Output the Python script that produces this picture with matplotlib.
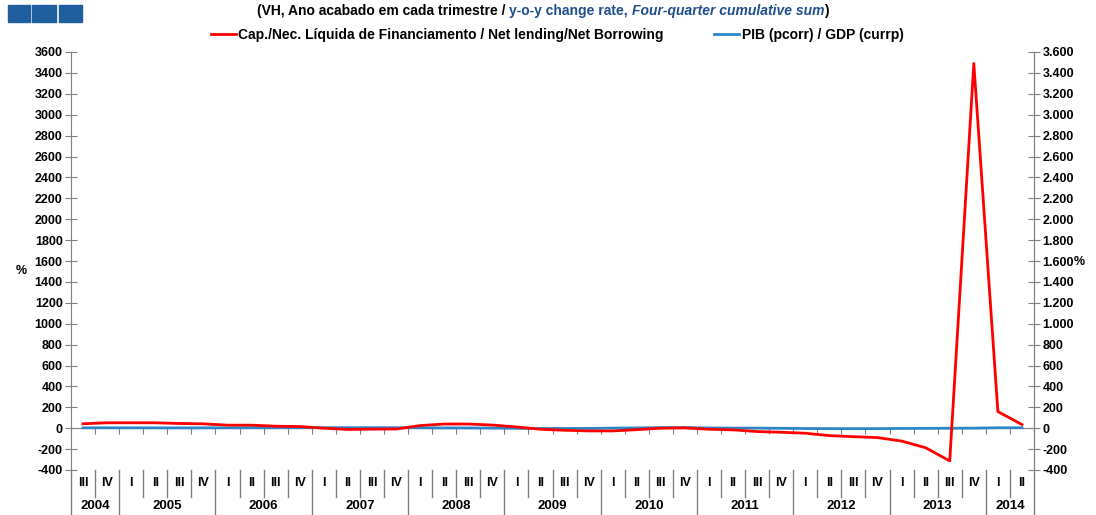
import matplotlib
matplotlib.use("Agg")
import matplotlib.pyplot as plt
from matplotlib.lines import Line2D
from matplotlib.patches import Rectangle
from matplotlib import transforms
from matplotlib.ticker import FuncFormatter, MultipleLocator

plt.rcParams['font.family'] = ['Liberation Sans', 'DejaVu Sans']
plt.rcParams['font.weight'] = 'bold'
plt.rcParams['axes.unicode_minus'] = False

# quarters from 2004 III to 2014 II
quarters = ['III', 'IV'] + ['I', 'II', 'III', 'IV'] * 9 + ['I', 'II']
years = ['2004', '2005', '2006', '2007', '2008', '2009', '2010', '2011', '2012', '2013', '2014']
year_len = [2, 4, 4, 4, 4, 4, 4, 4, 4, 4, 2]

# Cap./Nec. Liquida de Financiamento (VH %)
net_lending = [42, 52, 52, 52, 45, 42, 29, 29, 19, 16,
               0, -12, -9, -8, 25, 40, 40, 30, 12, -10,
               -20, -26, -26, -14, 0, 3, -10, -16, -32, -39,
               -48, -71, -81, -90, -123, -187, -313, 3490, 159, 35]
# PIB (pcorr) (VH %)
gdp = [3.5, 3.8, 3.5, 3.2, 3.0, 3.1, 3.5, 4.0, 4.2, 4.3,
       5.0, 5.2, 5.0, 4.8, 3.5, 2.5, 2.0, 1.0, -1.0, -2.5,
       -2.5, -2.0, 1.0, 2.5, 6.0, 6.0, 2.0, 1.0, 0.5, -1.0,
       -3.0, -4.0, -4.5, -4.0, -2.5, -1.5, -0.5, 0.5, 4.0, 4.0]

W, H = 1096, 515
fig = plt.figure(figsize=(W / 100, H / 100), dpi=100)
ax_left, ax_right, ax_top, ax_bot = 71, 1034, 52, 470
ax = fig.add_axes([ax_left / W, 1 - ax_bot / H, (ax_right - ax_left) / W, (ax_bot - ax_top) / H])

x = [i + 0.5 for i in range(len(quarters))]
grey = '#808080'
ax.plot(x, gdp, color='#2E86C8', lw=2, zorder=3)
ax.plot(x, net_lending, color='#FF0000', lw=2, zorder=4)

ax.set_xlim(0, len(quarters))
ax.set_ylim(-400, 3600)
ax.yaxis.set_major_locator(MultipleLocator(200))
ax.set_facecolor('none')

ax.spines['top'].set_visible(False)
ax.spines['bottom'].set_position(('data', 0))
ax.spines['bottom'].set_color(grey)
ax.spines['left'].set_color(grey)
ax.spines['right'].set_color(grey)
ax.set_xticks(range(len(quarters) + 1))
ax.tick_params(axis='x', direction='out', length=4, color=grey, labelbottom=False)
ax.tick_params(axis='y', direction='inout', length=8, color=grey, labelsize=9, pad=2)

ax2 = ax.twinx()
ax2.set_ylim(ax.get_ylim())
ax2.yaxis.set_major_locator(MultipleLocator(200))
ax2.yaxis.set_major_formatter(FuncFormatter(lambda v, p: f"{int(v):,}".replace(',', '.')))
ax2.tick_params(axis='y', direction='inout', length=8, color=grey, labelsize=9, pad=2)
for s in ['top', 'bottom', 'left']:
    ax2.spines[s].set_visible(False)
ax2.spines['right'].set_color(grey)

# category axis below the plot
tr = transforms.blended_transform_factory(ax.transData, ax.transAxes)
q_y = -(483 - ax_bot) / (ax_bot - ax_top)
y_y = -(506 - ax_bot) / (ax_bot - ax_top)
q_sep = -(497 - ax_bot) / (ax_bot - ax_top)
y_sep = -(515 - ax_bot) / (ax_bot - ax_top)
for i, q in enumerate(quarters):
    ax.text(i + 0.5, q_y, q, transform=tr, ha='center', va='center', fontsize=9, fontweight='bold')
year_bounds = [0]
for n in year_len:
    year_bounds.append(year_bounds[-1] + n)
for k in range(1, len(quarters)):
    bottom = y_sep if k in year_bounds else q_sep
    ax.add_line(Line2D([k, k], [0, bottom], transform=tr, color=grey, lw=1, clip_on=False))
for k in [0, len(quarters)]:
    ax.add_line(Line2D([k, k], [0, y_sep], transform=tr, color=grey, lw=1, clip_on=False))
for j, yr in enumerate(years):
    mid = (year_bounds[j] + year_bounds[j + 1]) / 2
    ax.text(mid, y_y, yr, transform=tr, ha='center', va='center', fontsize=9.5, fontweight='bold')

# % markers
fig.text(21 / W, 1 - 271 / H, '%', ha='center', va='center', fontsize=9, fontweight='bold')
fig.text(1074 / W, 1 - 262 / H, '%', ha='left', va='center', fontsize=9, fontweight='bold')

# three blue boxes top left
for x0, x1 in [(8, 30), (32, 56), (59, 82)]:
    fig.patches.append(Rectangle((x0 / W, 1 - 22 / H), (x1 - x0) / W, 17 / H,
                                 transform=fig.transFigure, color='#1F5FA0'))

# title in pieces
renderer = fig.canvas.get_renderer()
pieces = [("(VH, Ano acabado em cada trimestre / ", 'black', 'normal'),
          ("y-o-y change rate, ", '#1F4E8C', 'normal'),
          ("Four-quarter cumulative sum", '#1F4E8C', 'italic'),
          (")", 'black', 'normal')]
xpos = 257
for txt, col, style in pieces:
    t = fig.text(xpos / W, 1 - 11 / H, txt, color=col, fontstyle=style, fontsize=10,
                 fontweight='bold', ha='left', va='center')
    bb = t.get_window_extent(renderer=renderer)
    xpos += bb.width

# legend
handles = [Line2D([], [], color='#FF0000', lw=2), Line2D([], [], color='#2E86C8', lw=2)]
labels = ['Cap./Nec. Líquida de Financiamento / Net lending/Net Borrowing', 'PIB (pcorr) / GDP (currp)']
fig.legend(handles, labels, loc='center', bbox_to_anchor=(557 / W, 1 - 35 / H), ncol=2,
           frameon=False, handlelength=1.8, handletextpad=0.2, columnspacing=3.6,
           prop={'size': 10, 'weight': 'bold'})

fig.savefig('out.png', dpi=100)
